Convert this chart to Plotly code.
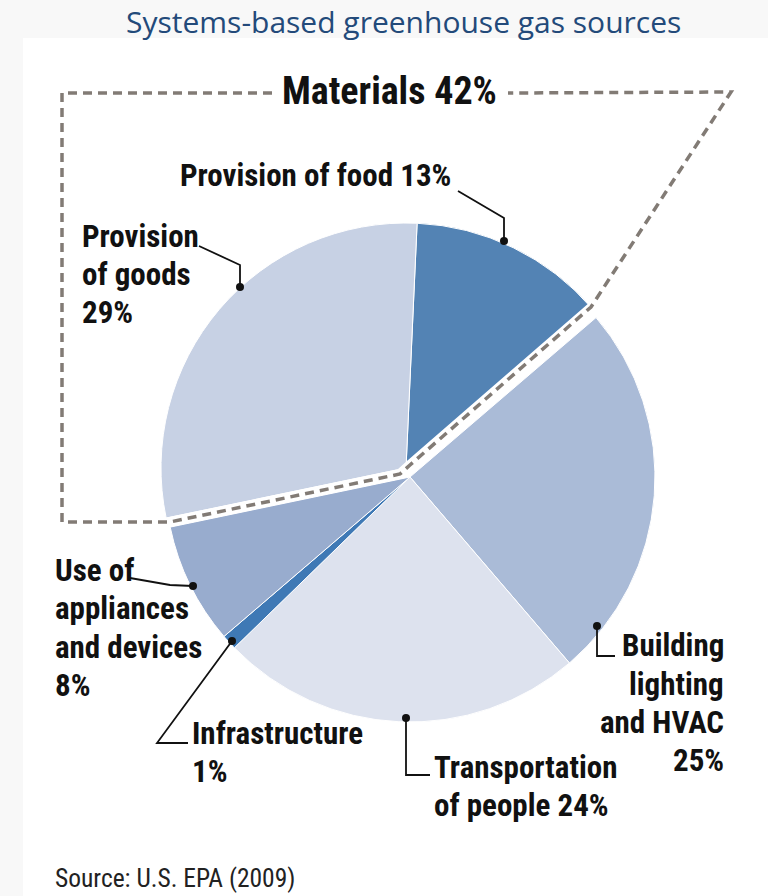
import plotly.graph_objects as go

W, H = 768, 896

# ---- data ----
categories = ["Provision of food", "Building lighting and HVAC", "Transportation of people",
              "Infrastructure", "Use of appliances and devices", "Provision of goods"]
shares = [13, 25, 24, 1, 8, 29]
is_material = [True, False, False, False, False, True]
colors = ["#5383b4", "#aabbd7", "#dde2ee", "#3f79b5", "#98acce", "#c7d1e4"]
materials_total = sum(v for v, m in zip(shares, is_material) if m)

label_lines = {
    "Provision of food": ["Provision of food 13%"],
    "Provision of goods": ["Provision", "of goods", "29%"],
    "Use of appliances and devices": ["Use of", "appliances", "and devices", "8%"],
    "Infrastructure": ["Infrastructure", "1%"],
    "Transportation of people": ["Transportation", "of people 24%"],
    "Building lighting and HVAC": ["Building", "lighting", "and HVAC", "25%"],
}
title_text = "Systems-based greenhouse gas sources"
source_text = "Source: U.S. EPA (2009)"


def px(x):
    return x / W


def py(y):
    return 1 - y / H


R = 245
main_c = (410, 477)
mat_c = (406, 468)
ROT = 2.6

fig = go.Figure()


def pie(center, show):
    cx, cy = center
    cols = [c if s else "rgba(0,0,0,0)" for c, s in zip(colors, show)]
    lcols = ["white" if s else "rgba(0,0,0,0)" for s in show]
    return go.Pie(
        labels=categories, values=shares, sort=False, direction="clockwise",
        rotation=ROT, textinfo="none", hoverinfo="skip", showlegend=False,
        marker=dict(colors=cols, line=dict(color=lcols, width=1)),
        domain=dict(x=[px(cx - R), px(cx + R)], y=[py(cy + R), py(cy - R)]),
    )


fig.add_trace(pie(main_c, [not m for m in is_material]))
fig.add_trace(pie(mat_c, is_material))

shapes = []
# background bands
shapes.append(dict(type="rect", xref="paper", yref="paper", x0=0, x1=1, y0=py(38), y1=1,
                   fillcolor="#f8f8f8", line=dict(width=0), layer="below"))
shapes.append(dict(type="rect", xref="paper", yref="paper", x0=0, x1=px(23), y0=0, y1=1,
                   fillcolor="#f8f8f8", line=dict(width=0), layer="below"))


def path(pts):
    return "M " + " L ".join(f"{px(x)},{py(y)}" for x, y in pts)


gap_pts = [(160, 524), (400, 474), (410, 465), (600, 300)]
shapes.append(dict(type="path", xref="paper", yref="paper", path=path(gap_pts),
                   line=dict(color="white", width=10)))

dash_style = dict(color="#827b75", width=3.5, dash="9px,6px")
shapes.append(dict(type="path", xref="paper", yref="paper",
                   path=path([(272, 93), (62, 93), (62, 522), (170, 522), (400, 474),
                              (410, 465), (591, 307), (731, 92), (508, 93)]),
                   line=dash_style))

leaders = {
    "Provision of food": [(458, 191), (504, 218), (504, 241)],
    "Provision of goods": [(199, 246), (240, 265), (240, 287)],
    "Use of appliances and devices": [(130, 578), (170, 585), (193, 586)],
    "Infrastructure": [(188, 743), (157, 743), (232, 641)],
    "Transportation of people": [(430, 775), (406, 775), (406, 718)],
    "Building lighting and HVAC": [(615, 656), (597, 656), (597, 626)],
}
for k, pts in leaders.items():
    shapes.append(dict(type="path", xref="paper", yref="paper", path=path(pts),
                       line=dict(color="#111111", width=1.8)))
    dx, dy = pts[-1]
    r = 4
    shapes.append(dict(type="circle", xref="paper", yref="paper",
                       x0=px(dx - r), x1=px(dx + r), y0=py(dy + r), y1=py(dy - r),
                       fillcolor="#111111", line=dict(width=0)))

fig.update_layout(shapes=shapes)

COND = "Roboto Condensed, Open Sans Condensed, DejaVu Sans Condensed, sans-serif"
LBL_FONT = dict(family=COND, size=31, color="#111111", weight="bold")

label_pos = {
    "Provision of food": (178, [175], "left"),
    "Provision of goods": (80, [235, 273, 311], "left"),
    "Use of appliances and devices": (53, [569, 607, 646, 684], "left"),
    "Infrastructure": (190, [732, 770], "left"),
    "Transportation of people": (432, [766, 804], "left"),
    "Building lighting and HVAC": (726, [644, 683, 721, 759], "right"),
}
ann = []
for k, (x, ys, anc) in label_pos.items():
    for line, y in zip(label_lines[k], ys):
        ann.append(dict(x=px(x), y=py(y + 1), xref="paper", yref="paper", text=line,
                        showarrow=False, xanchor=anc, yanchor="middle", font=LBL_FONT))

ann.append(dict(x=px(389), y=py(91), xref="paper", yref="paper",
                text=f"Materials {materials_total}%", showarrow=False,
                xanchor="center", yanchor="middle",
                font=dict(family=COND, size=38, color="#111111", weight="bold")))
ann.append(dict(x=px(53), y=py(878), xref="paper", yref="paper",
                text=source_text, showarrow=False, xanchor="left", yanchor="middle",
                font=dict(family=COND, size=25.5, color="#222222")))
ann.append(dict(x=px(403), y=py(21), xref="paper", yref="paper",
                text=title_text, showarrow=False,
                xanchor="center", yanchor="middle",
                font=dict(family="Open Sans, Noto Sans, sans-serif", size=30, color="#234a7a")))

fig.update_layout(annotations=ann, width=W, height=H, margin=dict(l=0, r=0, t=0, b=0),
                  paper_bgcolor="white", plot_bgcolor="white")

fig.write_html("out.html", config={"displayModeBar": False},
               post_script="document.body.style.margin='0';document.body.style.overflow='hidden';")
